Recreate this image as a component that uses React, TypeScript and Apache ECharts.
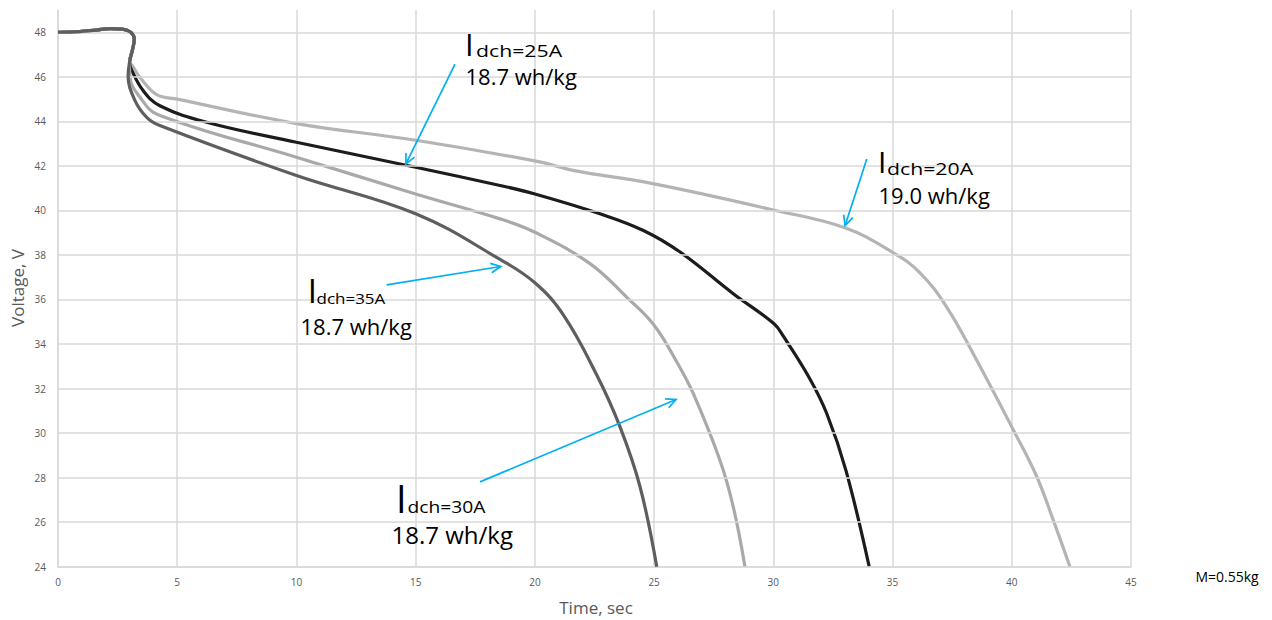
import React, { useEffect, useRef } from "react";
import * as echarts from "echarts";

// ---- data ----
const xTicks = [0, 5, 10, 15, 20, 25, 30, 35, 40, 45];
const yTicks = [24, 26, 28, 30, 32, 34, 36, 38, 40, 42, 44, 46, 48];

const startSeg: number[][] = [
  [0, 48.0], [0.9, 48.03], [1.6, 48.1], [2.2, 48.16], [2.7, 48.14],
  [3.05, 48.0], [3.2, 47.7], [3.12, 47.2], [3.0, 46.65],
];

const curve20A: number[][] = [
  [3.12, 46.5], [3.44, 45.97], [4.14, 45.2], [5.0, 45.0], [10.0, 43.9],
  [15.0, 43.15], [20.2, 42.18], [21.6, 41.8], [25.0, 41.19], [30.0, 40.02],
  [33.0, 39.22], [35.0, 38.12], [36.15, 37.2], [37.27, 35.66], [38.53, 33.27],
  [40.07, 30.13], [41.05, 28.04], [41.74, 26.09], [42.44, 24.0],
];
const curve25A: number[][] = [
  [3.09, 46.3], [3.57, 45.38], [4.27, 44.7], [6.23, 43.96], [10.0, 43.06],
  [15.0, 41.94], [18.54, 41.12], [20.0, 40.74], [22.73, 39.85], [24.55, 39.1],
  [26.09, 38.13], [28.32, 36.26], [30.03, 34.91], [30.42, 34.35], [31.5, 32.5],
  [32.24, 30.88], [33.05, 28.3], [34.02, 24.0],
];
const curve30A: number[][] = [
  [3.02, 45.97], [3.44, 45.08], [4.2, 44.3], [10.0, 42.39], [15.0, 40.74],
  [18.54, 39.62], [20.0, 39.02], [22.31, 37.61], [23.9, 36.05], [25.0, 34.84],
  [26.0, 33.1], [26.64, 31.78], [27.76, 28.78], [28.32, 26.69], [28.81, 24.0],
];
const curve35A: number[][] = [
  [2.94, 46.05], [3.23, 44.93], [3.72, 44.18], [4.27, 43.81], [10.0, 41.57],
  [15.0, 39.85], [18.54, 37.8], [20.0, 36.75], [21.2, 35.3],
  [22.6, 32.6], [23.57, 30.28], [24.41, 27.59], [25.11, 24.0],
];

// arrows: tail -> head (data coords)
const arrowTail: number[][] = [[16.65, 46.57], [33.92, 42.31], [13.78, 36.66], [17.7, 27.81]];
const arrowHead: number[][] = [[14.59, 42.09], [33.01, 39.32], [18.57, 37.48], [25.92, 31.51]];

const currents = ["dch=25A", "dch=20A", "dch=35A", "dch=30A"];
const energies = ["18.7 wh/kg", "19.0 wh/kg", "18.7 wh/kg", "18.7 wh/kg"];

const FAM = "'Open Sans', sans-serif";

function txt(text: string, x: number, baseline: number, fs: number, color: string, scaleX = 1, lh?: number) {
  const style: any = {
    text, fontSize: fs, fontFamily: FAM, fill: color,
    align: "left", verticalAlign: "middle", textAlign: "left", textVerticalAlign: "middle",
  };
  if (lh) style.lineHeight = lh;
  return {
    type: "text",
    x,
    y: baseline - 0.388 * fs,
    scaleX,
    z: 100,
    style,
  };
}

// annotation layout: [I x, I baseline, I size, dch x, dch baseline, dch size, wh x, wh baseline, wh size]
const annoLayout = [
  [465, 55.7, 31, 476, 57.3, 17, 465.5, 85, 22],
  [878, 173.3, 30, 887, 175, 17, 878.5, 204, 22],
  [307.7, 303.3, 33, 316.5, 304, 13.6, 300.5, 335, 22],
  [396, 512.3, 38, 407.5, 512.7, 15.4, 391.5, 544, 24],
];

export default function App() {
  const ref = useRef<HTMLDivElement>(null);
  useEffect(() => {
    if (!ref.current) return;
    const chart = echarts.init(ref.current, undefined, { renderer: "svg" });

    const mk = (name: string, d: number[][], color: string, z: number) => ({
      name,
      type: "line",
      data: [...startSeg, ...d],
      showSymbol: false,
      symbol: "none",
      smooth: 0.4,
      z,
      lineStyle: { color, width: 3.2 },
      itemStyle: { color },
      silent: true,
    });

    const graphics: any[] = [];
    annoLayout.forEach((a, i) => {
      graphics.push(txt("I", a[0], a[1], a[2], "#000", 1, Math.round(a[2] * 0.85)));
      graphics.push(txt(currents[i], a[3], a[4], a[5], "#000", 1.25));
      graphics.push(txt(energies[i], a[6], a[7], a[8], "#000"));
    });
    graphics.push(txt("M=0.55kg", 1195.4, 581.7, 14, "#000"));
    graphics.push({
      type: "text", x: 17, y: 288, rotation: Math.PI / 2, z: 100,
      style: { text: "Voltage, V", fontSize: 17, fontFamily: FAM, fill: "#595959",
        align: "center", verticalAlign: "middle", textAlign: "center", textVerticalAlign: "middle" },
    });
    graphics.push({
      type: "text", x: 596, y: 607, z: 100,
      style: { text: "Time, sec", fontSize: 17, fontFamily: FAM, fill: "#595959",
        align: "center", verticalAlign: "middle", textAlign: "center", textVerticalAlign: "middle" },
    });

    chart.setOption({
      animation: false,
      backgroundColor: "#fff",
      grid: { left: 58, right: 141, top: 10, bottom: 53.3, containLabel: false },
      xAxis: {
        type: "value", min: xTicks[0], max: xTicks[xTicks.length - 1], interval: 5,
        axisLine: { show: true, lineStyle: { color: "#d9d9d9", width: 1.5 } },
        axisTick: { show: false },
        axisLabel: { color: "#595959", fontSize: 10, fontFamily: FAM, margin: 10 },
        splitLine: { show: true, lineStyle: { color: "#d9d9d9", width: 1.5 } },
      },
      yAxis: {
        type: "value", min: 24, max: 49, interval: 2,
        axisLine: { show: true, lineStyle: { color: "#d9d9d9", width: 1.5 } },
        axisTick: { show: false },
        axisLabel: {
          color: "#595959", fontSize: 10, fontFamily: FAM, margin: 12,
          formatter: (v: number) => (yTicks.includes(v) ? String(v) : ""),
        },
        splitLine: { show: false },
      },
      series: [
        {
          type: "line", data: [[0, 48]], symbol: "none", showSymbol: false, z: 1,
          lineStyle: { opacity: 0 }, silent: true,
          markLine: {
            silent: true, symbol: ["none", "none"], label: { show: false },
            lineStyle: { color: "#d9d9d9", width: 1.5, type: "solid" },
            data: yTicks.map((v) => ({ yAxis: v })),
          },
        },
        mk("20A", curve20A, "#b4b4b4", 2),
        mk("25A", curve25A, "#1c1c1c", 3),
        mk("30A", curve30A, "#a9a9a9", 4),
        mk("35A", curve35A, "#5e5e5e", 5),
        {
          type: "custom", z: 10, silent: true,
          data: arrowTail.map((t, i) => [t[0], t[1], arrowHead[i][0], arrowHead[i][1]]),
          renderItem: (_p: any, api: any) => {
            const p1 = api.coord([api.value(0), api.value(1)]);
            const p2 = api.coord([api.value(2), api.value(3)]);
            const ang = Math.atan2(p2[1] - p1[1], p2[0] - p1[0]);
            const L = 11, W = 0.45;
            const a1 = [p2[0] - L * Math.cos(ang - W), p2[1] - L * Math.sin(ang - W)];
            const a2 = [p2[0] - L * Math.cos(ang + W), p2[1] - L * Math.sin(ang + W)];
            return {
              type: "group",
              children: [
                { type: "line", shape: { x1: p1[0], y1: p1[1], x2: p2[0], y2: p2[1] },
                  style: { stroke: "#00b0f0", lineWidth: 1.7 } },
                { type: "polyline", shape: { points: [a1, p2, a2] },
                  style: { stroke: "#00b0f0", lineWidth: 1.7, fill: null } },
              ],
            };
          },
        },
      ],
      graphic: graphics,
    });
    return () => chart.dispose();
  }, []);
  return <div ref={ref} style={{ position: "absolute", left: 0, top: 0, width: 1272, height: 620 }} />;
}
